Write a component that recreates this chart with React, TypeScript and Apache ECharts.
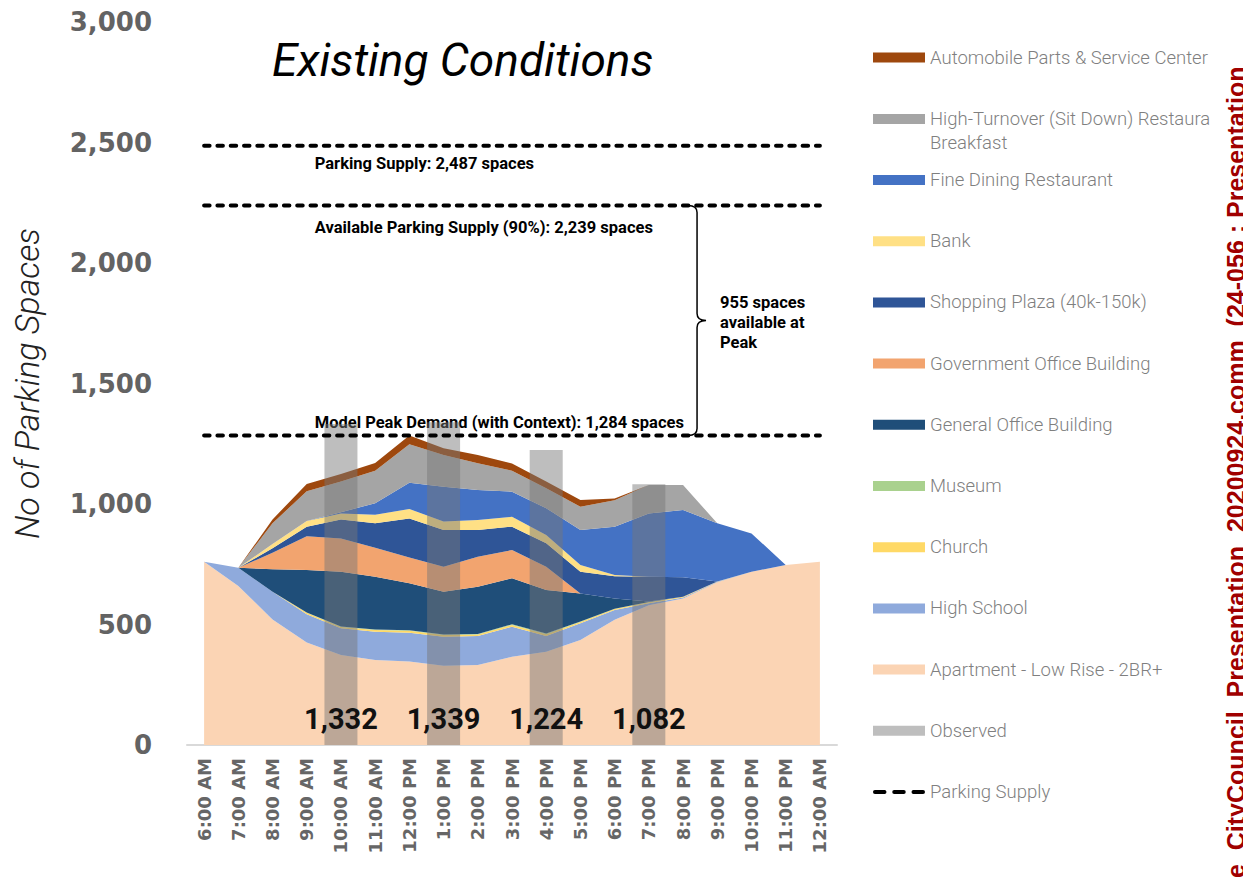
import React, { useEffect, useRef } from 'react';
import * as echarts from 'echarts';

const categories = [
  '6:00 AM', '7:00 AM', '8:00 AM', '9:00 AM', '10:00 AM', '11:00 AM', '12:00 PM',
  '1:00 PM', '2:00 PM', '3:00 PM', '4:00 PM', '5:00 PM', '6:00 PM', '7:00 PM',
  '8:00 PM', '9:00 PM', '10:00 PM', '11:00 PM', '12:00 AM',
];

const apartment = [760, 660, 521, 425, 373, 353, 346, 329, 332, 366, 387, 436, 520, 580, 608, 675, 719, 747, 760];
const highSchool = [0, 75, 115, 118, 111, 117, 120, 120, 120, 125, 65, 69, 40, 8, 4, 2, 0, 0, 0];
const church = [0, 0, 0, 6, 6, 7, 8, 7, 7, 7, 8, 5, 4, 4, 3, 1, 0, 0, 0];
const museum = [0, 0, 0, 1, 2, 2, 2, 2, 2, 3, 3, 2, 1, 1, 0, 0, 0, 0, 0];
const generalOffice = [0, 0, 93, 176, 227, 219, 195, 178, 196, 191, 180, 117, 43, 2, 0, 0, 0, 0, 0];
const governmentOffice = [0, 0, 69, 140, 138, 120, 107, 104, 124, 117, 97, 0, 0, 0, 0, 0, 0, 0, 0];
const shoppingPlaza = [0, 0, 18, 40, 79, 102, 162, 152, 111, 97, 97, 90, 92, 103, 81, 0, 0, 0, 0];
const bank = [0, 0, 18, 23, 25, 35, 39, 35, 42, 41, 34, 28, 5, 0, 0, 0, 0, 0, 0];
const fineDining = [0, 0, 0, 0, 5, 48, 109, 145, 124, 104, 111, 145, 201, 263, 279, 242, 159, 0, 0];
const highTurnover = [0, 0, 86, 124, 127, 135, 160, 131, 111, 87, 83, 97, 110, 118, 104, 0, 0, 0, 0];
const automobile = [0, 0, 16, 30, 31, 32, 36, 28, 34, 30, 28, 28, 7, 0, 0, 0, 0, 0, 0];

const observed: (number | string)[] = ['-', '-', '-', '-', 1332, '-', '-', 1339, '-', '-', 1224, '-', '-', 1082, '-', '-', '-', '-', '-'];

const parkingSupply = 2487;
const availableSupply = 2239;
const modelPeak = 1284;

const yMin = 0;
const yMax = 3000;
const yInterval = 500;

const HT_NAME = 'High-Turnover (Sit Down) Restaurant - Breakfast';

const layers = [
  { name: 'Apartment - Low Rise - 2BR+', data: apartment, color: '#FBD4B4' },
  { name: 'High School', data: highSchool, color: '#8FAADC' },
  { name: 'Church', data: church, color: '#FFD966' },
  { name: 'Museum', data: museum, color: '#A9D18E' },
  { name: 'General Office Building', data: generalOffice, color: '#1F4E79' },
  { name: 'Government Office Building', data: governmentOffice, color: '#F2A46F' },
  { name: 'Shopping Plaza (40k-150k)', data: shoppingPlaza, color: '#2F5597' },
  { name: 'Bank', data: bank, color: '#FFE085' },
  { name: 'Fine Dining Restaurant', data: fineDining, color: '#4472C4' },
  { name: HT_NAME, data: highTurnover, color: '#A5A5A5' },
  { name: 'Automobile Parts & Service Center', data: automobile, color: '#9E480E' },
];

const fmt = (n: number) => Number(n).toLocaleString('en-US');

const DASH_ICON = 'path://M2,0 H12 A2,2 0 0 1 12,4 H2 A2,2 0 0 1 2,0 Z M22,0 H32 A2,2 0 0 1 32,4 H22 A2,2 0 0 1 22,0 Z M42,0 H52 A2,2 0 0 1 52,4 H42 A2,2 0 0 1 42,0 Z';

export default function App() {
  const ref = useRef<HTMLDivElement>(null);

  useEffect(() => {
    if (!ref.current) return;
    const chart = echarts.init(ref.current, null, { renderer: 'svg' });

    const legendText = {
      fontFamily: 'Roboto',
      fontWeight: 300,
      fontSize: 18.5,
      color: '#7f7f7f',
      lineHeight: 20,
    };
    const legendBase = {
      orient: 'vertical',
      left: 873,
      padding: 0,
      itemWidth: 52,
      itemHeight: 10,
      selectedMode: false,
      textStyle: legendText,
    };

    const dashStyle = { color: '#000', width: 4, type: [5.5, 7.8], cap: 'round' };
    const lineSeries = (value: number) => ({
      name: 'Parking Supply',
      type: 'line',
      data: [[categories[0], value], [categories[categories.length - 1], value]],
      symbol: 'none',
      lineStyle: dashStyle,
      itemStyle: { color: '#000' },
      silent: true,
      z: 5,
    });

    const option: any = {
      animation: false,
      backgroundColor: '#ffffff',
      title: {
        text: 'Existing Conditions',
        left: 272,
        top: 37,
        padding: 0,
        textStyle: {
          fontFamily: 'Roboto',
          fontStyle: 'italic',
          fontWeight: 'normal',
          fontSize: 46,
          color: '#000',
        },
      },
      grid: { left: 187, right: 406, top: 22, bottom: 135, outerBoundsMode: 'none', containLabel: false },
      xAxis: {
        type: 'category',
        data: categories,
        boundaryGap: true,
        axisLine: { lineStyle: { color: '#D9D9D9', width: 2 } },
        axisTick: { show: false },
        axisLabel: {
          rotate: 90,
          interval: 0,
          margin: 13,
          fontFamily: 'DejaVu Sans',
          fontWeight: 'bold',
          fontSize: 18,
          color: '#666666',
        },
      },
      yAxis: {
        type: 'value',
        min: yMin,
        max: yMax,
        interval: yInterval,
        name: 'No of Parking Spaces',
        nameLocation: 'middle',
        nameGap: 143,
        nameRotate: 90,
        nameTextStyle: {
          fontFamily: 'Roboto',
          fontStyle: 'italic',
          fontWeight: 300,
          fontSize: 34,
          color: '#222',
        },
        axisLine: { show: false },
        axisTick: { show: false },
        splitLine: { show: false },
        axisLabel: {
          formatter: (v: number) => fmt(v),
          margin: 35,
          fontFamily: 'DejaVu Sans',
          fontWeight: 'bold',
          fontSize: 26,
          color: '#636363',
        },
      },
      legend: [
        { ...legendBase, top: 47.5, icon: 'rect', data: ['Automobile Parts & Service Center'] },
        {
          ...legendBase,
          top: 83,
          icon: 'rect',
          formatter: (n: string) => ' \n' + n.replace(' - ', '\n'),
          data: [{ name: HT_NAME, textStyle: { lineHeight: 24, width: 290, overflow: 'truncate', ellipsis: '' } }],
        },
        {
          ...legendBase,
          top: 170,
          itemGap: 41.2,
          data: [
            { name: 'Fine Dining Restaurant', icon: 'rect' },
            { name: 'Bank', icon: 'rect' },
            { name: 'Shopping Plaza (40k-150k)', icon: 'rect' },
            { name: 'Government Office Building', icon: 'rect' },
            { name: 'General Office Building', icon: 'rect' },
            { name: 'Museum', icon: 'rect' },
            { name: 'Church', icon: 'rect' },
            { name: 'High School', icon: 'rect' },
            { name: 'Apartment - Low Rise - 2BR+', icon: 'rect' },
            { name: 'Observed', icon: 'rect' },
            { name: 'Parking Supply', icon: DASH_ICON },
          ],
        },
      ],
      series: [
        ...layers.map((l) => ({
          name: l.name,
          type: 'line',
          stack: 'demand',
          data: l.data,
          symbol: 'none',
          color: l.color,
          itemStyle: { color: l.color },
          lineStyle: { width: 0, color: l.color },
          areaStyle: { color: l.color, opacity: 1 },
          emphasis: { disabled: true },
          silent: true,
          z: 2,
        })),
        {
          name: 'Observed',
          type: 'bar',
          data: observed,
          barWidth: 33,
          itemStyle: { color: 'rgba(120,120,120,0.48)' },
          emphasis: { disabled: true },
          silent: true,
          z: 3,
          label: {
            show: true,
            position: 'insideBottom',
            distance: 12,
            formatter: (p: any) => fmt(p.value),
            fontFamily: 'Roboto',
            fontWeight: 'bold',
            fontSize: 29,
            color: '#111',
          },
        },
        lineSeries(parkingSupply),
        lineSeries(availableSupply),
        lineSeries(modelPeak),
      ],
    };

    chart.setOption(option);

    const py = (v: number) => chart.convertToPixel({ yAxisIndex: 0 }, v) as number;
    const px = (c: string) => chart.convertToPixel({ xAxisIndex: 0 }, c) as number;

    const annX = px(categories[3]) + 8;
    const braceX = px(categories[14]) + 14;
    const yTop = py(availableSupply);
    const yBot = py(modelPeak);
    const yMid = (yTop + yBot) / 2;
    const d = `M ${braceX - 9} ${yTop} Q ${braceX} ${yTop} ${braceX} ${yTop + 7} L ${braceX} ${yMid - 7} Q ${braceX} ${yMid} ${braceX + 9} ${yMid} Q ${braceX} ${yMid} ${braceX} ${yMid + 7} L ${braceX} ${yBot - 7} Q ${braceX} ${yBot} ${braceX - 9} ${yBot}`;
    echarts.graphic.registerShape('brace', echarts.graphic.extendPath(d, {}) as any);

    const annFont = 'bold 16.5px Roboto';
    const txt = (x: number, y: number, text: string, extra: any = {}) => ({
      type: 'text',
      x,
      y,
      silent: true,
      style: {
        text,
        font: annFont,
        fill: '#000',
        align: 'left',
        verticalAlign: 'middle',
        textAlign: 'left',
        textVerticalAlign: 'middle',
        ...extra,
      },
    });

    chart.setOption({
      graphic: [
        txt(annX, py(parkingSupply) + 18, `Parking Supply: ${fmt(parkingSupply)} spaces`),
        txt(annX, yTop + 22, `Available Parking Supply (90%): ${fmt(availableSupply)} spaces`),
        txt(annX, yBot - 13, `Model Peak Demand (with Context): ${fmt(modelPeak)} spaces`),
        {
          type: 'brace',
          silent: true,
          style: { stroke: '#000', fill: 'none', lineWidth: 1.5 },
        },
        txt(braceX + 23, yMid + 2, `${fmt(availableSupply - modelPeak)} spaces\navailable at\nPeak`, { lineHeight: 20 }),
        {
          type: 'text',
          x: 1236,
          y: 878,
          rotation: Math.PI / 2,
          silent: true,
          style: {
            text: 'e  CityCouncil_Presentation_20200924.comm  (24-056 : Presentation',
            font: 'bold 25px "Liberation Sans"',
            fill: '#A00000',
            align: 'left',
            verticalAlign: 'middle',
            textAlign: 'left',
            textVerticalAlign: 'middle',
          },
        },
      ],
    });

    return () => chart.dispose();
  }, []);

  return (
    <div
      ref={ref}
      style={{ position: 'fixed', left: 0, top: 0, width: 1243, height: 880, background: '#fff' }}
    />
  );
}
